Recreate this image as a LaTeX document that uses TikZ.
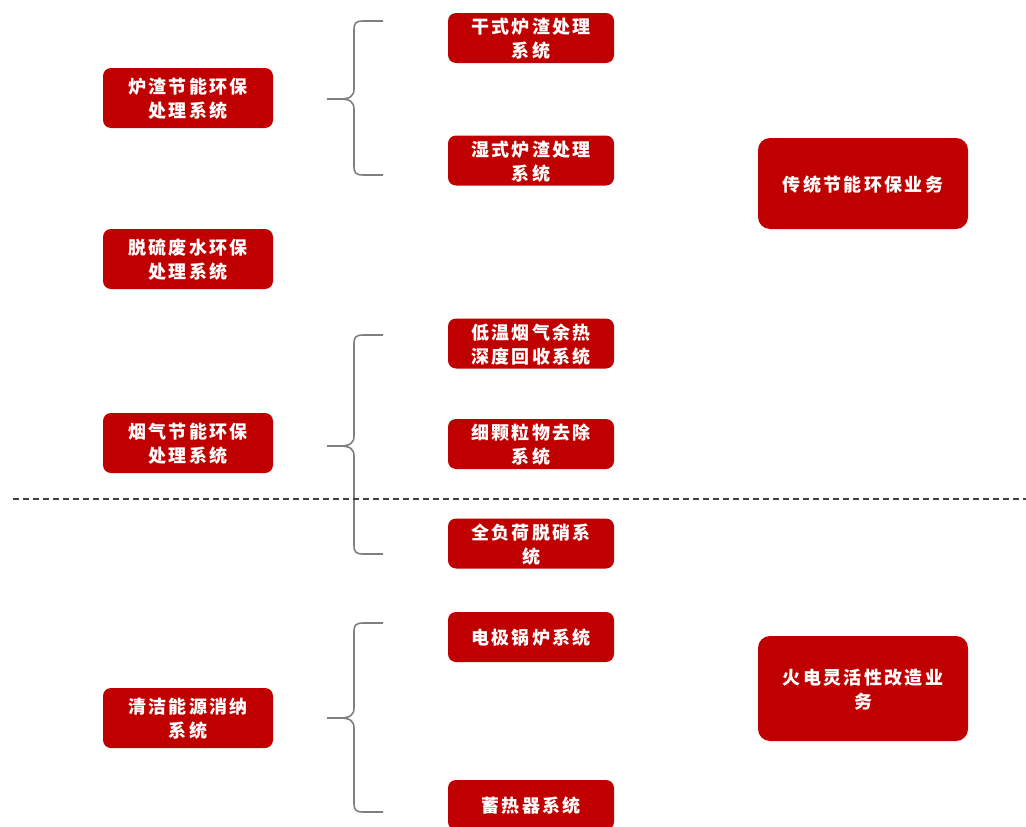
\documentclass[tikz,border=0pt]{standalone}
\usepackage{fontspec}
\newfontfamily\cjk[LetterSpace=13]{Noto Sans CJK SC}
\definecolor{boxred}{HTML}{C00000}
\definecolor{bracegray}{HTML}{7F7F7F}
\definecolor{dashgray}{HTML}{404040}
\tikzset{
  box/.style={fill=boxred, draw=none, rounded corners=8pt, inner sep=0pt,
    text=white, align=center, text depth=-2pt,
    font=\cjk\bfseries\fontsize{18}{24}\selectfont},
  leftbox/.style={box, minimum width=170pt, minimum height=60pt},
  midbox/.style={box, minimum width=166pt, minimum height=50pt},
  rightbox/.style={box, minimum width=210pt, rounded corners=12pt},
  bracel/.style={draw=bracegray, line width=1.6pt},
  divider/.style={draw=dashgray, line width=1.4pt, dash pattern=on 6pt off 4pt}
}
\begin{document}
\begin{tikzpicture}[x=1pt,y=-1pt]
\useasboundingbox (0,0) rectangle (1026,827);
\clip (0,0) rectangle (1026,827);
% left column
\node[leftbox] (L1) at (188,98) {炉渣节能环保\\处理系统};
\node[leftbox] (L2) at (188,259) {脱硫废水环保\\处理系统};
\node[leftbox] (L3) at (188,443) {烟气节能环保\\处理系统};
\node[leftbox] (L4) at (188,718) {清洁能源消纳\\系统};
% middle column
\node[midbox] (M1) at (531,38) {干式炉渣处理\\系统};
\node[midbox] (M2) at (531,160.5) {湿式炉渣处理\\系统};
\node[midbox] (M3) at (531,343.5) {低温烟气余热\\深度回收系统};
\node[midbox] (M4) at (531,444) {细颗粒物去除\\系统};
\node[midbox] (M5) at (531,543.5) {全负荷脱硝系\\统};
\node[midbox] (M6) at (531,637) {电极锅炉系统};
\node[midbox] (M7) at (531,805) {蓄热器系统};
% right column
\node[rightbox, minimum height=91pt] (R1) at (863,183.5) {传统节能环保业务};
\node[rightbox, minimum height=105pt] (R2) at (863,688.5) {火电灵活性改造业\\务};
% braces
\coordinate (b1tip) at (327,99);
\coordinate (b1top) at (383,21);
\coordinate (b1bot) at (383,175);
\path[bracel] (b1top) -- (364,21) .. controls (355,21) and (354,23) .. (354,31)
  -- (354,89) .. controls (354,96) and (350,99) .. (340,99) -- (b1tip)
  (340,99) .. controls (350,99) and (354,102) .. (354,109)
  -- (354,165) .. controls (354,173) and (355,175) .. (364,175) -- (b1bot);
\coordinate (b2tip) at (327,446);
\coordinate (b2top) at (383,335);
\coordinate (b2bot) at (383,554);
\path[bracel] (b2top) -- (364,335) .. controls (355,335) and (354,337) .. (354,345)
  -- (354,436) .. controls (354,443) and (350,446) .. (340,446) -- (b2tip)
  (340,446) .. controls (350,446) and (354,449) .. (354,456)
  -- (354,544) .. controls (354,552) and (355,554) .. (364,554) -- (b2bot);
\coordinate (b3tip) at (327,718);
\coordinate (b3top) at (383,623);
\coordinate (b3bot) at (383,812);
\path[bracel] (b3top) -- (364,623) .. controls (355,623) and (354,625) .. (354,633)
  -- (354,708) .. controls (354,715) and (350,718) .. (340,718) -- (b3tip)
  (340,718) .. controls (350,718) and (354,721) .. (354,728)
  -- (354,802) .. controls (354,810) and (355,812) .. (364,812) -- (b3bot);
% divider
\coordinate (dl) at (13,499);
\coordinate (dr) at (1026,499);
\path[divider] (dl) -- (dr);
\end{tikzpicture}
\end{document}
